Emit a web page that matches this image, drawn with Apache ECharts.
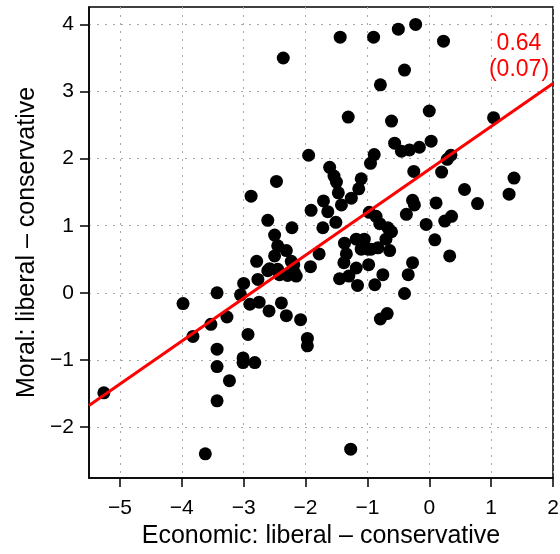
<!DOCTYPE html>
<html>
<head>
<meta charset="utf-8">
<script src="https://cdn.jsdelivr.net/npm/echarts@6/dist/echarts.min.js"></script>
<style>html,body{margin:0;padding:0;background:#fff}#c{width:560px;height:554px}</style>
</head>
<body>
<div id="c"></div>
<script>
// Economic (x) and Moral (y) scores
const economic = [
  -2.36, -1.44, -0.90, -0.50, -0.22, 0.23, -0.40, -0.79, -1.31, -0.61, 0.00, 1.04,
  -0.56, -0.45, -0.32, -0.16, 0.03, -1.95, -0.89, -0.95, 0.35, 0.29,
  -1.61, -1.54, -1.50, -1.47, -1.10, -1.14, -1.26, -0.25, 0.20, 0.57, 0.78, 1.37, 1.29, -2.47, -2.88, -0.27, -0.24,
  -0.37, 0.11, -0.05, 0.25, 0.36, -1.71, -1.64, -1.91, -1.42, -1.51, -1.72, -2.61, -2.22, -0.97, -0.86, -0.80,
  -2.50, -2.45, -2.31, -2.50, -2.23, -2.19, -2.79, -2.58, -2.45, -1.92,
  -0.67, -0.61, -0.70, -0.64, -0.83, -0.94, 0.09, 0.33, -1.78,
  -1.37, -1.34, -1.38, -1.45, -1.18, -1.05, -1.10, -0.99, -1.18, -1.30, -1.16, -0.98, -0.88,
  -0.75, -0.27, -0.34, -0.40, -0.79, -0.68,
  -2.61, -2.42, -2.29, -2.18, -2.15,
  -2.39, -2.31, -2.08, -1.97, -1.97,
  -3.98, -3.82, -3.43, -3.53, -3.27, -3.43, -3.43, -3.23, -3.43,
  -3.00, -3.05, -2.90, -2.75, -2.77, -2.59, -2.93, -3.01, -3.01, -2.82,
  -1.27, -3.62, -5.26
];
const moral = [
  3.50, 3.81, 3.81, 3.93, 4.00, 3.75, 3.32, 3.10, 2.62, 2.56, 2.71, 2.61,
  2.23, 2.11, 2.13, 2.17, 2.26, 2.05, 2.06, 1.93, 2.05, 1.99,
  1.87, 1.74, 1.65, 1.49, 1.70, 1.55, 1.41, 1.81, 1.80, 1.54, 1.33, 1.71, 1.47, 1.66, 1.44, 1.38, 1.31,
  1.17, 1.34, 1.02, 1.07, 1.14, 1.37, 1.21, 1.23, 1.31, 1.05, 0.97, 1.08, 0.97, 1.20, 1.14, 1.03,
  0.86, 0.70, 0.63, 0.55, 0.47, 0.42, 0.47, 0.36, 0.35, 0.39,
  0.97, 0.91, 0.80, 0.63, 0.67, 0.65, 0.79, 0.55, 0.58,
  0.74, 0.58, 0.45, 0.21, 0.80, 0.80, 0.65, 0.65, 0.37, 0.25, 0.11, 0.42, 0.12,
  0.27, 0.45, 0.27, -0.01, -0.39, -0.31,
  0.33, 0.27, 0.26, 0.30, 0.25,
  -0.15, -0.34, -0.40, -0.68, -0.79,
  -0.16, -0.65, 0.00, -0.47, -0.36, -0.84, -1.10, -1.31, -1.61,
  0.14, -0.03, -0.17, -0.14, 0.20, -0.27, -0.62, -0.97, -1.04, -1.04,
  -2.33, -2.40, -1.49
];
// Fitted line: moral = intercept + slope * economic
const fitIntercept = 1.84;
const fitSlope = 0.64;
const fitLabel = ['0.64', '(0.07)'];
const xRange = [-5.5, 2];
const yRange = [-2.76, 4.26];
const xTicks = [-5, -4, -3, -2, -1, 0, 1, 2];
const yTicks = [-2, -1, 0, 1, 2, 3, 4];
const xTitle = 'Economic: liberal \u2013 conservative';
const yTitle = 'Moral: liberal \u2013 conservative';

const points = economic.map((x, i) => [x, moral[i]]);
const fitLine = xRange.map(x => [x, fitIntercept + fitSlope * x]);
const FONT = 'Liberation Sans, Arial, Helvetica, sans-serif';

const chart = echarts.init(document.getElementById('c'), null, {renderer: 'canvas'});
const gridLine = {show: true, lineStyle: {color: '#a8a8a8', width: 1, type: [2, 6]}};
const fmt = v => (v < 0 ? '\u2212' + Math.abs(v) : String(v));
chart.setOption({
  animation: false,
  backgroundColor: '#fff',
  grid: {left: 89, right: 7, top: 7, bottom: 76, show: true, borderColor: '#000', borderWidth: 1.5, outerBoundsMode: 'none'},
  xAxis: {
    type: 'value', min: xRange[0], max: xRange[1],
    name: xTitle, nameLocation: 'middle', nameGap: 46,
    nameTextStyle: {fontFamily: FONT, fontSize: 25, color: '#000'},
    axisLine: {show: true, onZero: false, lineStyle: {color: '#000', width: 1.5}},
    axisTick: {show: true, inside: false, length: 9, customValues: xTicks, lineStyle: {color: '#000', width: 1.5}},
    axisLabel: {customValues: xTicks, margin: 20, fontFamily: FONT, fontSize: 21, color: '#000', formatter: fmt},
    splitLine: gridLine
  },
  yAxis: {
    type: 'value', min: yRange[0], max: yRange[1],
    name: yTitle, nameLocation: 'middle', nameGap: 48, nameRotate: 90,
    nameTextStyle: {fontFamily: FONT, fontSize: 25, color: '#000'},
    axisLine: {show: true, onZero: false, lineStyle: {color: '#000', width: 1.5}},
    axisTick: {show: true, inside: false, length: 9, customValues: yTicks, lineStyle: {color: '#000', width: 1.5}},
    axisLabel: {customValues: yTicks, margin: 15, fontFamily: FONT, fontSize: 21, color: '#000', formatter: fmt},
    splitLine: gridLine
  },
  series: [
    {
      type: 'scatter', data: points, symbol: 'circle', symbolSize: 13,
      itemStyle: {color: '#000', opacity: 1}, z: 3
    },
    {
      type: 'line', data: fitLine, symbol: 'none', clip: true,
      lineStyle: {color: '#ff0000', width: 3}, z: 4
    }
  ],
  graphic: [{
    type: 'text', x: 519, y: 31, z: 10,
    style: {text: fitLabel.join('\n'), fill: '#ff0000', fontFamily: FONT, fontSize: 23, lineHeight: 26, align: 'center', verticalAlign: 'top'}
  }]
});
</script>
</body>
</html>
